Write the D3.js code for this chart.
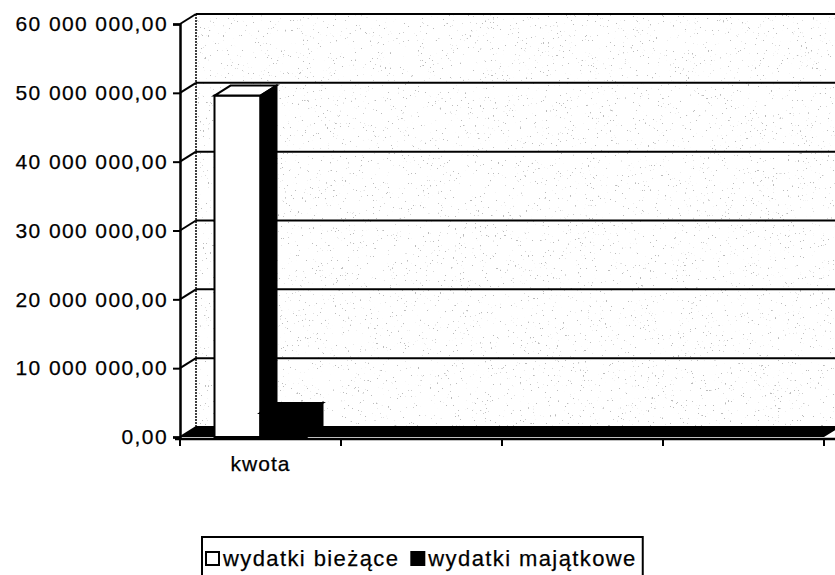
<!DOCTYPE html>
<html>
<head>
<meta charset="utf-8">
<script src="https://cdn.jsdelivr.net/npm/d3@7"></script>
<style>
  body { margin: 0; background: #fff; }
  text { font-family: "Liberation Sans", Arial, sans-serif; fill: #000; stroke: #000; stroke-width: 0.25px; }
</style>
</head>
<body>
<svg id="chart" width="835" height="575"></svg>
<script>
// dane wykresu
var categories = ["kwota", "", "", ""];
var seriesNames = ["wydatki bieżące", "wydatki majątkowe"];
var biezace = [49600000, null, null, null];
var majatkowe = [3500000, null, null, null];
var yTicks = [0, 10000000, 20000000, 30000000, 40000000, 50000000, 60000000];

var seriesColors = ["#fff", "#000"];
var seriesValues = [biezace, majatkowe];

var svg = d3.select("#chart");
var W = 835, H = 575;
// glebokosc 3d
var dx = 16, dy = -10;

var x = d3.scaleBand().domain(d3.range(categories.length)).range([180, 824]);
var xs = d3.scaleBand().domain(d3.range(seriesNames.length)).range([0, x.bandwidth()]).paddingOuter(0.75);
var y = d3.scaleLinear().domain([0, 60000000]).range([437, 24]);

var pl = d3.formatLocale({decimal: ",", thousands: " ", grouping: [3], currency: ["", ""]});
var fmt = pl.format(",.2f");

// tekstura tylnej sciany
var defs = svg.append("defs");
var filt = defs.append("filter").attr("id", "speckle")
  .attr("x", 0).attr("y", 0).attr("width", 1).attr("height", 1);
filt.append("feTurbulence").attr("type", "fractalNoise")
  .attr("baseFrequency", "0.6 0.4").attr("numOctaves", 3).attr("seed", 7).attr("result", "n");
filt.append("feColorMatrix").attr("in", "n").attr("type", "matrix")
  .attr("values", "0 0 0 0 0.5  0 0 0 0 0.5  0 0 0 0 0.5  -16 0 0 0 4.4").attr("result", "s");
filt.append("feComposite").attr("in", "s").attr("in2", "SourceGraphic").attr("operator", "in");

var backTop = y(60000000) + dy, backBottom = y(0) + dy;

svg.append("rect").attr("x", 180 + dx).attr("y", backTop).attr("width", W - 180 - dx)
  .attr("height", backBottom - backTop).attr("fill", "#fff");
svg.append("rect").attr("x", 180 + dx).attr("y", backTop).attr("width", W - 180 - dx)
  .attr("height", backBottom - backTop).attr("fill", "#000").attr("filter", "url(#speckle)");

// siatka na tylnej scianie
svg.append("g").selectAll("line").data(yTicks).join("line")
  .attr("x1", 180 + dx).attr("x2", W)
  .attr("y1", function(d){return y(d) + dy;}).attr("y2", function(d){return y(d) + dy;})
  .attr("stroke", "#000").attr("stroke-width", 2);

// lewa sciana: przekatne
svg.append("g").selectAll("line").data(yTicks).join("line")
  .attr("x1", 180).attr("x2", 180 + dx)
  .attr("y1", function(d){return y(d);}).attr("y2", function(d){return y(d) + dy;})
  .attr("stroke", "#000").attr("stroke-width", 2);
svg.append("line").attr("x1", 180 + dx).attr("x2", 180 + dx).attr("y1", backTop).attr("y2", backBottom)
  .attr("stroke", "#000").attr("stroke-width", 1.5).attr("stroke-dasharray", "2,1");

// podloga
svg.append("polygon")
  .attr("points", [[180, y(0)], [x.range()[1], y(0)], [x.range()[1] + dx, y(0) + dy], [180 + dx, y(0) + dy]].join(" "))
  .attr("fill", "#000");

// slupki
seriesValues.forEach(function(vals, s) {
  var g = svg.append("g");
  vals.forEach(function(v, i) {
    if (v == null) return;
    var x0 = x(i) + xs(s), w = xs.bandwidth(), yt = y(v), yb = y(0);
    var fill = seriesColors[s];
    g.append("rect").attr("x", x0).attr("y", yt).attr("width", w).attr("height", yb - yt)
      .attr("fill", fill).attr("stroke", "#000").attr("stroke-width", 2);
    g.append("polygon")
      .attr("points", [[x0, yt], [x0 + dx, yt + dy], [x0 + w + dx, yt + dy], [x0 + w, yt]].join(" "))
      .attr("fill", fill).attr("stroke", "#000").attr("stroke-width", 2);
    g.append("polygon")
      .attr("points", [[x0 + w, yt], [x0 + w + dx, yt + dy], [x0 + w + dx, yb + dy], [x0 + w, yb]].join(" "))
      .attr("fill", "#000").attr("stroke", "#000").attr("stroke-width", 2);
  });
});

// os Y
var yAxis = svg.append("g").attr("transform", "translate(180,0)")
  .call(d3.axisLeft(y).tickValues(yTicks).tickFormat(fmt).tickSize(7).tickPadding(5));
yAxis.select(".domain").attr("stroke-width", 2.5);
yAxis.selectAll(".tick line").attr("stroke-width", 2);
yAxis.selectAll("text").style("font-size", "21px").style("letter-spacing", "1.4px")
  .attr("font-family", null).attr("fill", null);

// os X
var xAxis = svg.append("g").attr("transform", "translate(0," + (y(0) + 2) + ")")
  .call(d3.axisBottom(x).tickFormat(function(i){return categories[i];}).tickSize(0).tickPadding(17));
xAxis.select(".domain").attr("d", "M175,0H" + W).attr("stroke-width", 2.5);
xAxis.selectAll("text").style("font-size", "21px").style("letter-spacing", "1px")
  .attr("font-family", null).attr("fill", null);
xAxis.selectAll(".edge").data(x.domain().concat([categories.length])).join("line")
  .attr("class", "edge")
  .attr("x1", function(i){return i < categories.length ? x(i) : x.range()[1];})
  .attr("x2", function(i){return i < categories.length ? x(i) : x.range()[1];})
  .attr("y1", 0).attr("y2", 7).attr("stroke", "#000").attr("stroke-width", 2);

// legenda
var lg = svg.append("g");
var lx = 202;
var box = lg.append("rect").attr("x", lx).attr("y", 537).attr("height", 45)
  .attr("fill", "#fff").attr("stroke", "#000").attr("stroke-width", 2);
var cursor = lx + 4;
seriesNames.forEach(function(name, s) {
  lg.append("rect").attr("x", cursor).attr("y", 552).attr("width", 13).attr("height", 13)
    .attr("fill", seriesColors[s]).attr("stroke", "#000").attr("stroke-width", 2);
  var t = lg.append("text").attr("x", cursor + 17).attr("y", 566).style("font-size", "22px")
    .style("letter-spacing", "1.4px").text(name);
  cursor += 17 + t.node().getComputedTextLength() + 12;
});
box.attr("width", cursor - lx - 6);
</script>
</body>
</html>
